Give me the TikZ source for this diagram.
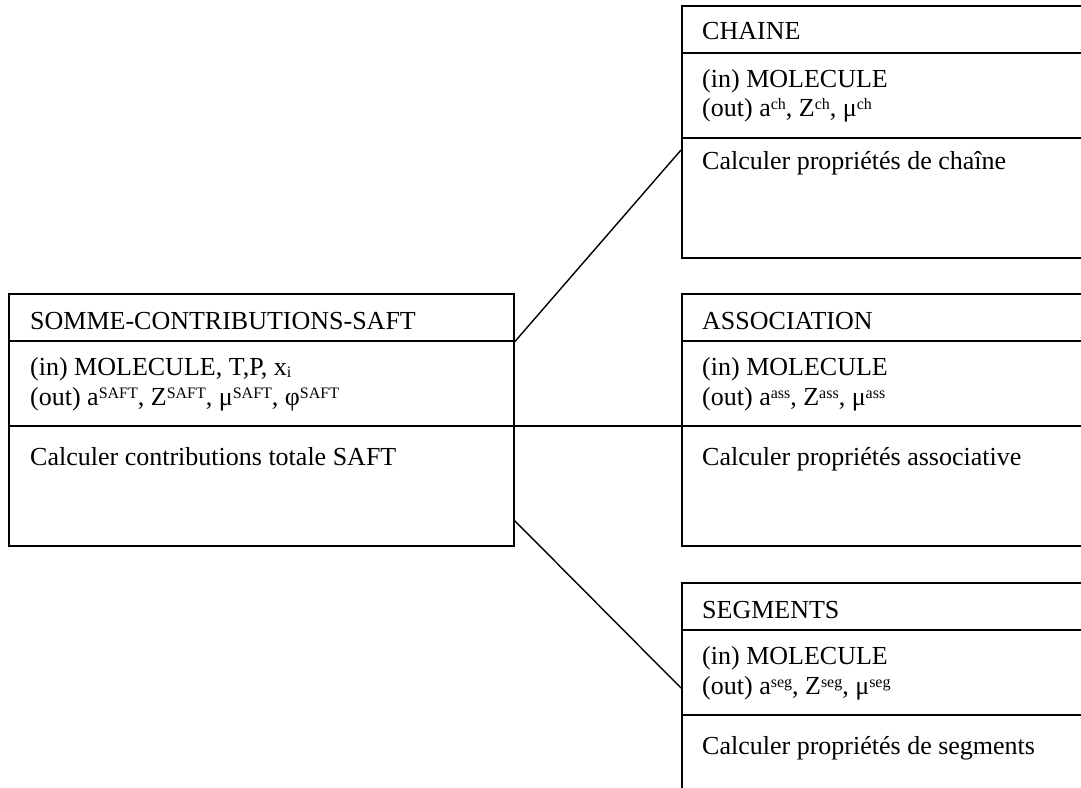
\documentclass[tikz,border=0pt]{standalone}
\usepackage{fontspec}
\setmainfont{Liberation Serif}
\usetikzlibrary{positioning, calc}

% exponents and indices as in the source
\newcommand{\expo}[1]{\raisebox{6.5pt}{\fontsize{16}{16}\selectfont #1}}
\newcommand{\indice}[1]{\raisebox{-2pt}{\fontsize{16}{16}\selectfont #1}}

\tikzset{
    classe/.style={draw, line width=1.5pt, anchor=north west, inner sep=0pt,
        minimum height=252pt},
    texte/.style={anchor=base west, inner sep=0pt,
        font=\fontsize{26}{30}\selectfont},
    lien/.style={line width=1.4pt}
}

\begin{document}
\begin{tikzpicture}[x=1pt, y=-1pt]

% frame
\path[use as bounding box, clip] (0,0) rectangle (1081,787);

% boxes
\node[classe, minimum width=505pt] (somme) at (8,293) {};
\node[classe, minimum width=480pt] (chaine) at (681,5) {};
\node[classe, minimum width=480pt] (assoc) at (681,293) {};
\node[classe, minimum width=480pt] (seg) at (681,582) {};

% compartments
\foreach \b in {somme, chaine, assoc, seg} {
    \draw[line width=1.5pt] ($(\b.north west)+(0,48)$) -- ($(\b.north east)+(0,48)$);
    \draw[line width=1.5pt] ($(\b.north west)+(0,133)$) -- ($(\b.north east)+(0,133)$);
}

% SOMME-CONTRIBUTIONS-SAFT
\node[texte] (somme-nom) at ($(somme.north west)+(22,36)$) {SOMME-CONTRIBUTIONS-SAFT};
\node[texte] (somme-in) at ($(somme.north west)+(22,82)$)
    {(in) MOLECULE, T,P, x\indice{i}};
\node[texte] (somme-out) at ($(somme.north west)+(22,112)$)
    {(out) a\expo{SAFT}, Z\expo{SAFT}, μ\expo{SAFT}, φ\expo{SAFT}};
\node[texte] (somme-op) at ($(somme.north west)+(22,172)$) {Calculer contributions totale SAFT};

% CHAINE
\node[texte] (chaine-nom) at ($(chaine.north west)+(21,34)$) {CHAINE};
\node[texte] (chaine-in) at ($(chaine.north west)+(21,82)$) {(in) MOLECULE};
\node[texte] (chaine-out) at ($(chaine.north west)+(21,111)$)
    {(out) a\expo{ch}, Z\expo{ch}, μ\expo{ch}};
\node[texte] (chaine-op) at ($(chaine.north west)+(21,164)$) {Calculer propriétés de chaîne};

% ASSOCIATION
\node[texte] (assoc-nom) at ($(assoc.north west)+(21,36)$) {ASSOCIATION};
\node[texte] (assoc-in) at ($(assoc.north west)+(21,82)$) {(in) MOLECULE};
\node[texte] (assoc-out) at ($(assoc.north west)+(21,112)$)
    {(out) a\expo{ass}, Z\expo{ass}, μ\expo{ass}};
\node[texte] (assoc-op) at ($(assoc.north west)+(21,172)$) {Calculer propriétés associative};

% SEGMENTS
\node[texte] (seg-nom) at ($(seg.north west)+(21,36)$) {SEGMENTS};
\node[texte] (seg-in) at ($(seg.north west)+(21,82)$) {(in) MOLECULE};
\node[texte] (seg-out) at ($(seg.north west)+(21,112)$)
    {(out) a\expo{seg}, Z\expo{seg}, μ\expo{seg}};
\node[texte] (seg-op) at ($(seg.north west)+(21,172)$) {Calculer propriétés de segments};

% connectors
\coordinate (s1) at ($(somme.north east)+(0,49)$);
\coordinate (s2) at ($(somme.north east)+(0,133)$);
\coordinate (s3) at ($(somme.south east)+(0,-26)$);
\coordinate (c1) at ($(chaine.north west)+(0,145)$);
\coordinate (a1) at ($(assoc.north west)+(0,133)$);
\coordinate (g1) at ($(seg.north west)+(0,106)$);
\draw[lien] (s1) -- (c1);
\draw[lien] (s2) -- (a1);
\draw[lien] (s3) -- (g1);

\end{tikzpicture}
\end{document}
